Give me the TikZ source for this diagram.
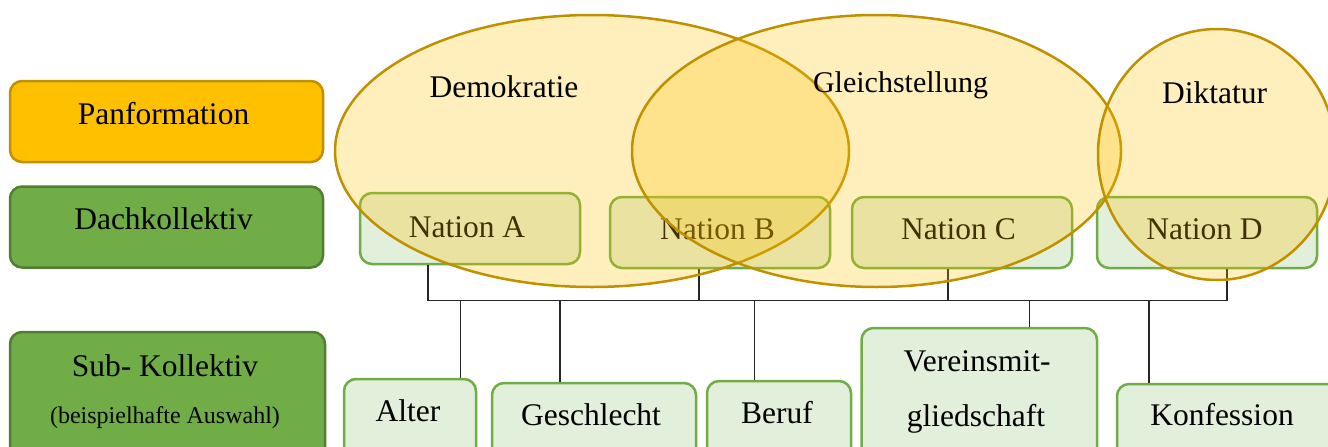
\documentclass[tikz,border=0pt]{standalone}
\usepackage{fontspec}
\setmainfont{Liberation Serif}
\definecolor{gold}{HTML}{FFC000}
\definecolor{golddark}{HTML}{BF9000}
\definecolor{green}{HTML}{70AD47}
\definecolor{greendark}{HTML}{507E32}
\definecolor{greenlight}{HTML}{E2EFDA}
\definecolor{conncol}{HTML}{262626}
\tikzset{
  boxshape/.style={rectangle, rounded corners=12pt, line width=2.5pt, inner sep=0pt},
  panbox/.style={boxshape, draw=golddark, fill=gold},
  dachbox/.style={boxshape, draw=greendark, fill=green},
  lightbox/.style={boxshape, draw=green, fill=greenlight},
  txt/.style={anchor=base, inner sep=0pt, font=\fontsize{31.5}{36}\selectfont},
  smalltxt/.style={anchor=base, inner sep=0pt, font=\fontsize{24}{28}\selectfont},
  conn/.style={draw=conncol, line width=1.3pt},
  setshape/.style={draw=golddark, line width=2.5pt, fill=gold, fill opacity=0.26}
}
\begin{document}
\begin{tikzpicture}[x=1pt,y=-1pt]
\useasboundingbox (0,0) rectangle (1328,447);

% left legend boxes
\node[panbox, minimum width=313pt, minimum height=81pt] (pan) at (166.5,121.5) {};
\node[dachbox, minimum width=313pt, minimum height=81pt] (dach) at (166.5,227) {};
\node[dachbox, minimum width=315pt, minimum height=128pt] (sub) at (167.5,396) {};
\node[txt] (tpan) at (163.5,124) {Panformation};
\node[txt] (tdach) at (163.5,229) {Dachkollektiv};
\node[txt] (tsub) at (165,376) {Sub- Kollektiv};
\node[smalltxt] (tsub2) at (165,423) {(beispielhafte Auswahl)};

% nation boxes
\node[lightbox, minimum width=220pt, minimum height=71pt] (natA) at (470,228.5) {};
\node[lightbox, minimum width=220pt, minimum height=71pt] (natB) at (720,232.5) {};
\node[lightbox, minimum width=220pt, minimum height=71pt] (natC) at (962,232.5) {};
\node[lightbox, minimum width=220pt, minimum height=71pt] (natD) at (1207,232.5) {};
\node[txt] (tA) at (467,237) {Nation A};
\node[txt] (tB) at (717.5,239) {Nation B};
\node[txt] (tC) at (958.5,239) {Nation C};
\node[txt] (tD) at (1204.5,239) {Nation D};

% sub boxes
\node[lightbox, minimum width=132pt, minimum height=83pt] (alter) at (410,420.5) {};
\node[lightbox, minimum width=204pt, minimum height=79pt] (gesch) at (594,422.5) {};
\node[lightbox, minimum width=144pt, minimum height=81pt] (beruf) at (779,421.5) {};
\node[lightbox, minimum width=235.5pt, minimum height=134pt] (verein) at (979.25,395) {};
\node[lightbox, minimum width=223pt, minimum height=78pt] (konf) at (1228.5,423) {};
\node[txt] (talter) at (408,421.7) {Alter};
\node[txt] (tgesch) at (591,425) {Geschlecht};
\node[txt] (tberuf) at (777,423) {Beruf};
\node[txt] (tverein) at (977,371.7) {Vereinsmit-};
\node[txt] (tverein2) at (976,426.7) {gliedschaft};
\node[txt] (tkonf) at (1222,425) {Konfession};

% connectors
\coordinate (bA) at (428,300.5);
\coordinate (bB) at (699,300.5);
\coordinate (bC) at (948,300.5);
\coordinate (bD) at (1227,300.5);
\coordinate (bAl) at (460.5,300.5);
\coordinate (bGe) at (560,300.5);
\coordinate (bBe) at (754.5,300.5);
\coordinate (bVe) at (1029.5,300.5);
\coordinate (bKo) at (1149,300.5);
\draw[conn] (bA) -- (bD);
\draw[conn] (natA.south -| bA) -- (bA);
\draw[conn] (natB.south -| bB) -- (bB);
\draw[conn] (natC.south -| bC) -- (bC);
\draw[conn] (natD.south -| bD) -- (bD);
\draw[conn] (bAl) -- (alter.north -| bAl);
\draw[conn] (bGe) -- (gesch.north -| bGe);
\draw[conn] (bBe) -- (beruf.north -| bBe);
\draw[conn] (bVe) -- (verein.north -| bVe);
\draw[conn] (bKo) -- (konf.north -| bKo);

% set ellipses
\draw[setshape] (592,151) ellipse [x radius=257pt, y radius=136pt];
\draw[setshape] (876.5,151) ellipse [x radius=244.5pt, y radius=136pt];
\draw[setshape] (1217,154.5) ellipse [x radius=119pt, y radius=125.5pt];
\node[txt] (tdemo) at (504,97) {Demokratie};
\node[txt, font=\fontsize{30}{34}\selectfont] (tgleich) at (900.5,92) {Gleichstellung};
\node[txt] (tdikt) at (1214.5,103) {Diktatur};
\end{tikzpicture}
\end{document}
